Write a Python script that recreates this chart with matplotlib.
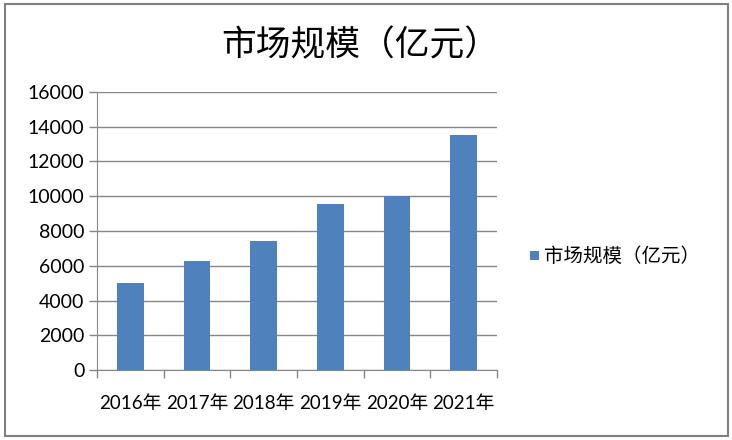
import matplotlib
matplotlib.use("Agg")
from matplotlib import pyplot as plt
from matplotlib.patches import Rectangle
import numpy as np

plt.rcParams['font.family'] = ['Lato', 'Noto Sans CJK SC', 'DejaVu Sans']

years = ["2016年", "2017年", "2018年", "2019年", "2020年", "2021年"]
values = [5000, 6300, 7400, 9560, 10000, 13550]
series_name = "市场规模（亿元）"
bar_color = "#4f81bd"

W, H = 732, 440
fig = plt.figure(figsize=(W / 100, H / 100), dpi=100)

# plot area in pixel coordinates
left, right, top, bottom = 97, 497, 92, 370
ax = fig.add_axes([left / W, 1 - bottom / H, (right - left) / W, (bottom - top) / H])

x = np.arange(len(years))
ax.bar(x, values, width=0.4, color=bar_color, zorder=3)
ax.set_xlim(-0.5, len(years) - 0.5)
ax.set_ylim(0, 16000)
ax.set_yticks(np.arange(0, 16001, 2000))
ax.yaxis.grid(True, color="#868686", linewidth=1, zorder=0)

ax.set_xticks(np.arange(-0.5, len(years), 1.0))
ax.set_xticklabels([])
ax.set_xticks(x, minor=True)
ax.set_xticklabels(years, minor=True, fontsize=13.5)
ax.tick_params(axis="x", which="major", direction="out", length=6, color="#868686", width=1)
ax.tick_params(axis="x", which="minor", length=0, pad=18)
ax.tick_params(axis="y", direction="out", length=6, color="#868686", width=1, labelsize=14, pad=3)

for side in ["top", "right"]:
    ax.spines[side].set_visible(False)
for side in ["left", "bottom"]:
    ax.spines[side].set_color("#868686")

fig.text(360 / W, 1 - 45 / H, series_name, ha="center", va="center", fontsize=25)

# legend
fig.patches.append(Rectangle((530 / W, 1 - 260 / H), 9 / W, 9 / H, transform=fig.transFigure,
                             facecolor=bar_color, edgecolor="none"))
fig.text(544 / W, 1 - 255.5 / H, series_name, ha="left", va="center", fontsize=14)

# outer border
fig.patches.append(Rectangle((4.5 / W, 4.5 / H), (W - 9) / W, (H - 9) / H, transform=fig.transFigure,
                             facecolor="none", edgecolor="#7f7f7f", linewidth=1.5))

fig.savefig("out.png", dpi=100)
